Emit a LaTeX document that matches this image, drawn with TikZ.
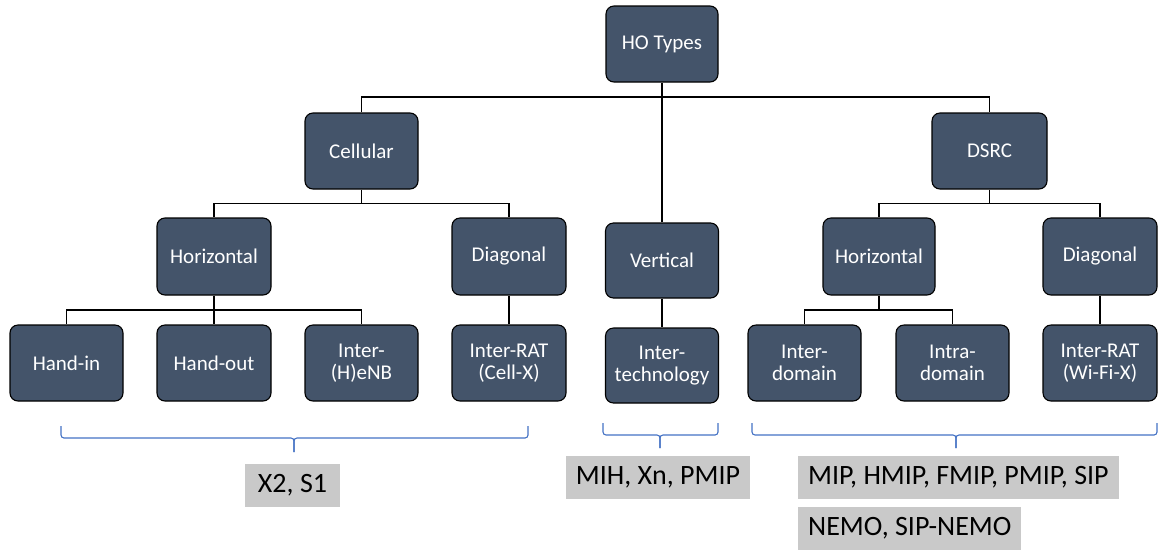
\documentclass[tikz,border=0pt]{standalone}
\usepackage{fontspec}
\setmainfont{Carlito}
\definecolor{boxblue}{HTML}{44546A}
\definecolor{lblgray}{HTML}{C9C9C9}
\definecolor{braceblue}{HTML}{4472C4}
\begin{document}
\begin{tikzpicture}[x=1pt,y=-1pt,
  box/.style={draw=black, line width=1.1pt, fill=boxblue, rounded corners=8pt, text=white,
    font=\fontsize{21}{21.5}\selectfont, align=center, minimum width=113pt, minimum height=76pt, inner sep=0pt},
  conn/.style={draw=black, line width=1.1pt},
  lbl/.style={fill=lblgray, text=black, font=\fontsize{28}{30}\selectfont, inner xsep=10pt, inner ysep=0pt, minimum height=43pt},
  brc/.style={draw=braceblue, line width=1.1pt, rounded corners=3pt}]
\useasboundingbox (0,0) rectangle (1159,550);

% level 0
\node[box, minimum width=112pt] (ho) at (662,44) {HO Types};
% level 1
\node[box] (cell) at (361.5,151) {Cellular};
\node[box, minimum width=115pt] (dsrc) at (989.5,151) {DSRC};
\node[box, minimum height=75pt] (vert) at (662,260.5) {Vertical};
% level 2
\node[box, minimum width=114pt, minimum height=77pt] (hc) at (214,256.5) {Horizontal};
\node[box, minimum width=114pt, minimum height=77pt] (dc) at (509,256.5) {Diagonal};
\node[box, minimum width=112pt, minimum height=77pt] (hd) at (879,256.5) {Horizontal};
\node[box, minimum width=114pt, minimum height=77pt] (dd) at (1100,256.5) {Diagonal};
% level 3
\node[box] (handin) at (66.5,363) {Hand-in};
\node[box, minimum width=114pt] (handout) at (214,363) {Hand-out};
\node[box] (henb) at (361.5,363) {Inter-\\(H)eNB};
\node[box, minimum width=114pt] (ratc) at (509,363) {Inter-RAT\\(Cell-X)};
\node[box, minimum height=75pt] (itech) at (662,365.5) {Inter-\\technology};
\node[box] (idom) at (804.5,363) {Inter-\\domain};
\node[box] (intra) at (952.5,363) {Intra-\\domain};
\node[box, minimum width=114pt] (ratw) at (1100,363) {Inter-RAT\\(Wi-Fi-X)};

% bus levels
\coordinate (b0) at (0,97);
\coordinate (b1) at (0,203.5);
\coordinate (b2) at (0,310);

% connectors
\draw[conn] (ho.south) -- (vert.north);
\draw[conn] (cell.north) -- (cell.north |- b0) -- (dsrc.north |- b0) -- (dsrc.north);
\draw[conn] (cell.south) -- (cell.south |- b1);
\draw[conn] (hc.north) -- (hc.north |- b1) -- (dc.north |- b1) -- (dc.north);
\draw[conn] (dsrc.south) -- (dsrc.south |- b1);
\draw[conn] (hd.north) -- (hd.north |- b1) -- (dd.north |- b1) -- (dd.north);
\draw[conn] (hc.south) -- (handout.north);
\draw[conn] (handin.north) -- (handin.north |- b2) -- (henb.north |- b2) -- (henb.north);
\draw[conn] (dc.south) -- (ratc.north);
\draw[conn] (vert.south) -- (itech.north);
\draw[conn] (hd.south) -- (hd.south |- b2);
\draw[conn] (idom.north) -- (idom.north |- b2) -- (intra.north |- b2) -- (intra.north);
\draw[conn] (dd.south) -- (ratw.north);

% braces
\draw[brc] (61,426) -- (61,438) -- (294,438) -- (294,452);
\draw[brc] (528,426) -- (528,438) -- (294,438) -- (294,452);
\draw[brc] (603,423) -- (603,435) -- (660,435) -- (660,448);
\draw[brc] (718,423) -- (718,435) -- (660,435) -- (660,448);
\draw[brc] (752,423) -- (752,435) -- (956,435) -- (956,448);
\draw[brc] (1157,423) -- (1157,435) -- (956,435) -- (956,448);

% labels
\node[lbl, minimum width=95pt] (x2) at (292.5,485.5) {X2, S1};
\node[lbl, minimum width=180pt] (mih) at (658,477.5) {MIH, Xn, PMIP};
\node[lbl, anchor=west] (mip) at (798,477.5) {MIP, HMIP, FMIP, PMIP, SIP};
\node[lbl, anchor=west] (nemo) at (798,528.5) {NEMO, SIP-NEMO};
\end{tikzpicture}
\end{document}
